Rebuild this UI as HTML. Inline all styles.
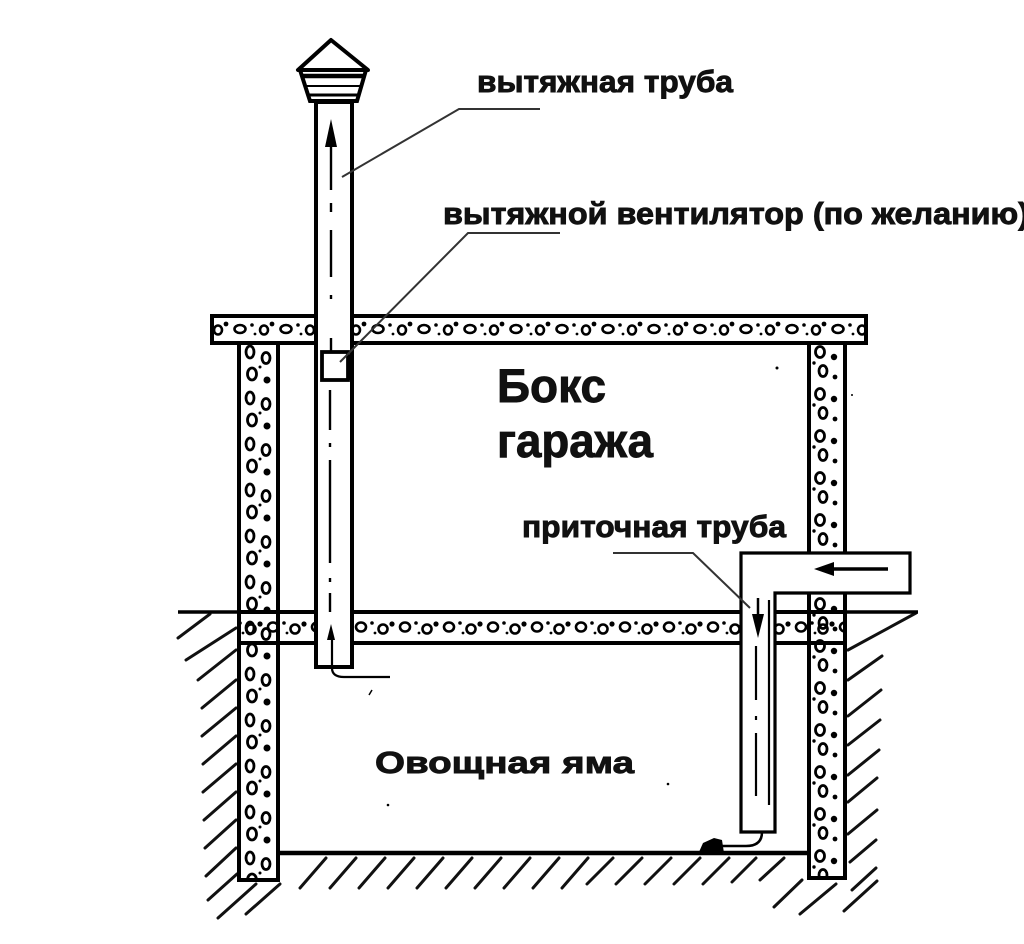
<!DOCTYPE html>
<html><head><meta charset="utf-8">
<style>
html,body{margin:0;padding:0;background:#fff;}
svg{display:block;}
text{font-family:"Liberation Sans","DejaVu Sans",sans-serif;font-weight:bold;fill:#111;stroke:#111;stroke-width:0.9;}
</style></head>
<body>
<svg width="1024" height="944" viewBox="0 0 1024 944" xmlns="http://www.w3.org/2000/svg">
<defs>
  <pattern id="wl" x="238" y="343" width="40" height="46" patternUnits="userSpaceOnUse">
    <ellipse cx="12" cy="9" rx="4" ry="6" fill="none" stroke="#000" stroke-width="2.8"/>
    <ellipse cx="28" cy="15" rx="4" ry="5.5" fill="none" stroke="#000" stroke-width="2.8"/>
    <ellipse cx="14" cy="31" rx="4.5" ry="6" fill="none" stroke="#000" stroke-width="2.8"/>
    <circle cx="29" cy="37" r="3.5" fill="#000"/>
    <circle cx="22" cy="24" r="1.5" fill="#000"/>
  </pattern>
  <pattern id="wr" x="808" y="343" width="37" height="42" patternUnits="userSpaceOnUse">
    <ellipse cx="12" cy="9" rx="4.5" ry="5.5" fill="none" stroke="#000" stroke-width="2.8"/>
    <circle cx="26" cy="14" r="3.2" fill="#000"/>
    <ellipse cx="15" cy="28" rx="4" ry="5.5" fill="none" stroke="#000" stroke-width="2.8"/>
    <circle cx="27" cy="34" r="2.4" fill="#000"/>
    <circle cx="6" cy="20" r="1.7" fill="#000"/>
  </pattern>
  <pattern id="st" x="0" y="315" width="46" height="28" patternUnits="userSpaceOnUse">
    <ellipse cx="10" cy="14" rx="5.5" ry="4" fill="none" stroke="#000" stroke-width="2.6"/>
    <circle cx="22" cy="10" r="1.8" fill="#000"/>
    <ellipse cx="34" cy="15" rx="4" ry="4.5" fill="none" stroke="#000" stroke-width="2.6"/>
    <circle cx="42" cy="9" r="2.4" fill="#000"/>
    <circle cx="25" cy="19" r="1.4" fill="#000"/>
  </pattern>
  <pattern id="sf" x="0" y="612" width="44" height="31" patternUnits="userSpaceOnUse">
    <ellipse cx="9" cy="15" rx="5" ry="4.5" fill="none" stroke="#000" stroke-width="2.6"/>
    <circle cx="20" cy="11" r="1.8" fill="#000"/>
    <ellipse cx="31" cy="17" rx="4.5" ry="4.5" fill="none" stroke="#000" stroke-width="2.6"/>
    <circle cx="40" cy="12" r="2.6" fill="#000"/>
    <circle cx="23" cy="21" r="1.4" fill="#000"/>
  </pattern>
</defs>

<!-- hatching (ground) -->
<g stroke="#111" stroke-width="3" stroke-linecap="round" fill="none">
  <line x1="178" y1="638" x2="210" y2="614"/>
  <line x1="186" y1="660" x2="236" y2="628"/>
  <line x1="198" y1="680" x2="236" y2="650"/>
  <line x1="202" y1="708" x2="236" y2="680"/>
  <line x1="202" y1="736" x2="236" y2="708"/>
  <line x1="203" y1="764" x2="236" y2="736"/>
  <line x1="203" y1="792" x2="236" y2="764"/>
  <line x1="204" y1="820" x2="236" y2="792"/>
  <line x1="205" y1="848" x2="236" y2="820"/>
  <line x1="206" y1="876" x2="236" y2="848"/>
  <line x1="208" y1="900" x2="237" y2="874"/>
  <line x1="218" y1="918" x2="256" y2="884"/>
  <line x1="246" y1="914" x2="280" y2="884"/>
  <!-- bottom -->
  <line x1="300" y1="888" x2="326" y2="858"/>
  <line x1="330" y1="888" x2="356" y2="858"/>
  <line x1="359" y1="888" x2="385" y2="858"/>
  <line x1="388" y1="888" x2="414" y2="858"/>
  <line x1="417" y1="888" x2="443" y2="858"/>
  <line x1="446" y1="888" x2="472" y2="858"/>
  <line x1="475" y1="888" x2="501" y2="858"/>
  <line x1="504" y1="888" x2="530" y2="858"/>
  <line x1="533" y1="888" x2="559" y2="858"/>
  <line x1="562" y1="888" x2="588" y2="858"/>
  <line x1="587" y1="884" x2="613" y2="858"/>
  <line x1="616" y1="884" x2="642" y2="858"/>
  <line x1="645" y1="884" x2="671" y2="858"/>
  <line x1="674" y1="884" x2="700" y2="858"/>
  <line x1="703" y1="884" x2="729" y2="858"/>
  <line x1="732" y1="882" x2="756" y2="858"/>
  <line x1="760" y1="880" x2="784" y2="858"/>
  <line x1="774" y1="907" x2="802" y2="880"/>
  <line x1="800" y1="914" x2="836" y2="884"/>
  <line x1="844" y1="911" x2="877" y2="881"/>
  <!-- right -->
  <line x1="848" y1="650" x2="916" y2="613"/>
  <line x1="848" y1="680" x2="882" y2="656"/>
  <line x1="848" y1="716" x2="881" y2="690"/>
  <line x1="848" y1="745" x2="880" y2="720"/>
  <line x1="848" y1="775" x2="879" y2="750"/>
  <line x1="848" y1="802" x2="877" y2="778"/>
  <line x1="848" y1="834" x2="877" y2="810"/>
  <line x1="850" y1="862" x2="876" y2="840"/>
  <line x1="852" y1="890" x2="876" y2="868"/>
</g>

<!-- ground lines -->
<line x1="178" y1="612" x2="240" y2="612" stroke="#000" stroke-width="3.5"/>
<line x1="843" y1="612" x2="918" y2="612" stroke="#000" stroke-width="3.5"/>

<!-- top slab -->
<rect x="212" y="316" width="654" height="27" fill="url(#st)" stroke="#000" stroke-width="4"/>
<!-- left wall -->
<rect x="239" y="343" width="39" height="537" fill="url(#wl)" stroke="#000" stroke-width="4"/>
<!-- floor slab -->
<rect x="239" y="612" width="606" height="31" fill="url(#sf)" stroke="#000" stroke-width="4"/>
<!-- right wall -->
<rect x="809" y="343" width="36" height="535" fill="url(#wr)" stroke="#000" stroke-width="4"/>
<!-- pit floor -->
<line x1="278" y1="853" x2="809" y2="853" stroke="#000" stroke-width="4.5"/>

<!-- exhaust pipe -->
<rect x="316" y="102" width="36" height="565" fill="#fff" stroke="#000" stroke-width="4"/>
<!-- cap -->
<polygon points="331,40 298,70 368,70" fill="#fff" stroke="#000" stroke-width="4" stroke-linejoin="round"/>
<polygon points="300,70 366,70 357,101 310,101" fill="#fff" stroke="#000" stroke-width="4"/>
<line x1="303" y1="76" x2="363" y2="76" stroke="#000" stroke-width="4.5"/>
<line x1="306" y1="86" x2="361" y2="86" stroke="#000" stroke-width="2"/>
<line x1="309" y1="95" x2="358" y2="95" stroke="#000" stroke-width="3"/>

<!-- exhaust centerline + arrows -->
<polygon points="331,119 325,147 337,147" fill="#000"/>
<g stroke="#000" stroke-width="2.4">
  <line x1="331" y1="145" x2="331" y2="190"/>
  <line x1="331" y1="203" x2="331" y2="212"/>
  <line x1="331" y1="230" x2="331" y2="277"/>
  <line x1="331" y1="295" x2="331" y2="299"/>
  <line x1="331" y1="338" x2="331" y2="352"/>
  <line x1="330" y1="390" x2="330" y2="430"/>
  <line x1="330" y1="443" x2="330" y2="447"/>
  <line x1="330" y1="460" x2="330" y2="563"/>
  <line x1="330" y1="578" x2="330" y2="582"/>
  <line x1="330" y1="593" x2="330" y2="612"/>
</g>
<polygon points="331,624 327,640 335,640" fill="#000"/>
<path d="M332,640 V668 Q332,677 344,677 H390" fill="none" stroke="#000" stroke-width="2.2"/>

<!-- fan -->
<rect x="322" y="352" width="26" height="28" fill="#fff" stroke="#000" stroke-width="3.8"/>
<line x1="349" y1="355" x2="349" y2="380" stroke="#000" stroke-width="2"/>

<!-- intake pipe + box -->
<path d="M741,832 V553 H910 V593 H775 V832 Z" fill="#fff" stroke="#000" stroke-width="3.2"/>
<line x1="826" y1="569" x2="888" y2="569" stroke="#000" stroke-width="3.5"/>
<polygon points="814,569 834,562 834,576" fill="#000"/>
<line x1="758" y1="598" x2="758" y2="618" stroke="#000" stroke-width="2.5"/>
<polygon points="752,614 764,614 758,638" fill="#000"/>
<g stroke="#000" stroke-width="2.2">
  <line x1="756" y1="646" x2="756" y2="700"/>
  <line x1="756" y1="716" x2="756" y2="720"/>
  <line x1="756" y1="733" x2="756" y2="796"/>
  <line x1="769" y1="600" x2="769" y2="805"/>
</g>
<path d="M762,832 Q762,846 746,846 H722" fill="none" stroke="#000" stroke-width="2.5"/>
<path d="M699,852 L703,843 L714,838 L722,840 L724,853 Z" fill="#000"/>

<!-- leader lines -->
<g stroke="#333" stroke-width="2" fill="none">
  <path d="M540,109 H459 L342,177"/>
  <path d="M560,233 H468 L340,362"/>
  <path d="M613,553 H693 L750,608"/>
</g>

<!-- specks -->
<circle cx="777" cy="368" r="1.5" fill="#000"/>
<circle cx="852" cy="395" r="1" fill="#000"/>
<circle cx="388" cy="805" r="1.3" fill="#000"/>
<circle cx="668" cy="784" r="1.3" fill="#000"/>
<line x1="369" y1="695" x2="372" y2="690" stroke="#000" stroke-width="1.5"/>

<!-- labels -->
<text x="477" y="92" font-size="31" textLength="256" lengthAdjust="spacingAndGlyphs">вытяжная труба</text>
<text x="443" y="224" font-size="31" textLength="586" lengthAdjust="spacingAndGlyphs">вытяжной вентилятор (по желанию)</text>
<text x="497" y="402" font-size="47" textLength="109" lengthAdjust="spacingAndGlyphs">Бокс</text>
<text x="497" y="457" font-size="47" textLength="156" lengthAdjust="spacingAndGlyphs">гаража</text>
<text x="522" y="537" font-size="31" textLength="264" lengthAdjust="spacingAndGlyphs">приточная труба</text>
<text x="375" y="773" font-size="31" textLength="259" lengthAdjust="spacingAndGlyphs">Овощная яма</text>
</svg>
</body></html>
